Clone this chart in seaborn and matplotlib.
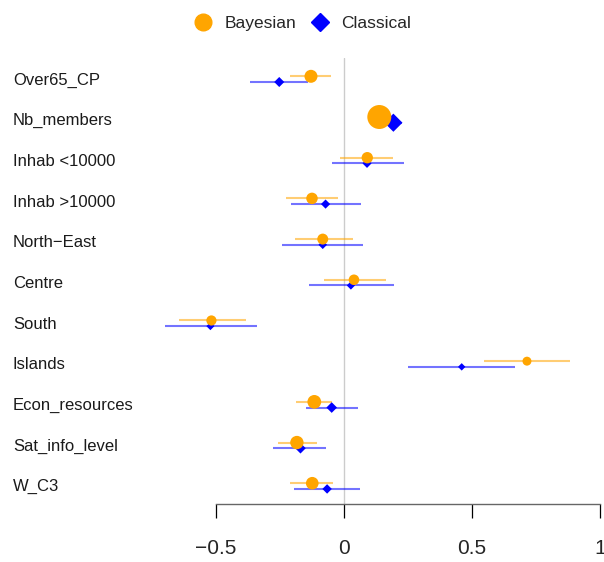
import numpy as np
import pandas as pd
import seaborn as sns
import matplotlib.pyplot as plt
from matplotlib.lines import Line2D
from matplotlib.transforms import blended_transform_factory

variables = ["Over65_CP", "Nb_members", "Inhab <10000", "Inhab >10000",
             "North\u2212East", "Centre", "South", "Islands",
             "Econ_resources", "Sat_info_level", "W_C3"]

# Bayesian estimates with interval
bayes_est = [-0.129, 0.138, 0.091, -0.125, -0.083, 0.039, -0.518, 0.715,
             -0.116, -0.184, -0.124]
bayes_lo = [-0.210, 0.115, -0.016, -0.227, -0.191, -0.078, -0.643, 0.548,
            -0.188, -0.256, -0.211]
bayes_hi = [-0.050, 0.162, 0.193, -0.023, 0.034, 0.164, -0.383, 0.885,
            -0.045, -0.105, -0.042]

# Classical estimates with interval
class_est = [-0.253, 0.193, 0.090, -0.072, -0.083, 0.027, -0.522, 0.460,
             -0.048, -0.170, -0.066]
class_lo = [-0.367, 0.158, -0.047, -0.207, -0.241, -0.138, -0.699, 0.251,
            -0.148, -0.277, -0.195]
class_hi = [-0.139, 0.228, 0.234, 0.066, 0.076, 0.197, -0.341, 0.668,
            0.056, -0.070, 0.062]

xticks = [-0.5, 0, 0.5, 1]


def build_frame():
    rows = []
    for method, est, lo, hi in [("Classical", class_est, class_lo, class_hi),
                                ("Bayesian", bayes_est, bayes_lo, bayes_hi)]:
        for i, v in enumerate(variables):
            rows.append({"variable": v, "row": i, "method": method,
                         "est": est[i], "lo": lo[i], "hi": hi[i]})
    df = pd.DataFrame(rows)
    df["width"] = df["hi"] - df["lo"]
    # marker area grows with precision (1 / interval width)
    df["y"] = df["row"] + np.where(df["method"] == "Bayesian", -0.09, 0.05)
    return df


def main():
    sns.set_theme(style="white")
    plt.rcParams["font.family"] = ["Liberation Sans", "DejaVu Sans"]

    df = build_frame()
    fig = plt.figure(figsize=(6.04, 5.62), dpi=100)
    ax = fig.add_axes([150 / 604, 1 - 504 / 562, 454 / 604, 446 / 562])

    ax.axvline(0, color="#cccccc", lw=1, zorder=0)

    styles = {"Classical": dict(color="blue", marker="D", k=6.0),
              "Bayesian": dict(color="orange", marker="o", k=14.0)}
    for method in ["Classical", "Bayesian"]:
        sub = df[df["method"] == method]
        st = styles[method]
        ax.hlines(sub["y"], sub["lo"], sub["hi"], color=st["color"],
                  alpha=0.55, lw=1.5, zorder=2)
        sns.scatterplot(data=sub, x="est", y="y", ax=ax, color=st["color"],
                        marker=st["marker"], s=st["k"] / sub["width"],
                        linewidth=0, legend=False, zorder=3)

    ax.set_xlim(-0.758, 1.016)
    ax.set_ylim(10.42, -0.54)
    ax.set_xlabel("")
    ax.set_ylabel("")
    ax.set_yticks([])
    ax.set_xticks(xticks)
    ax.set_xticklabels(["\u22120.5", "0", "0.5", "1"])
    for s in ["top", "left", "right"]:
        ax.spines[s].set_visible(False)
    ax.spines["bottom"].set_bounds(-0.5, 1)
    ax.spines["bottom"].set_color("#666666")
    ax.spines["bottom"].set_linewidth(1)
    ax.tick_params(axis="x", bottom=True, length=10, width=0.9,
                   color="black", labelsize=15, pad=15)

    trans = blended_transform_factory(fig.transFigure, ax.transData)
    for i, v in enumerate(variables):
        ax.text(13 / 604, i, v, transform=trans, ha="left", va="center",
                fontsize=12, color="#1a1a1a")

    handles = [Line2D([], [], color="orange", marker="o", ls="", ms=12),
               Line2D([], [], color="blue", marker="D", ms=9, ls="")]
    fig.legend(handles, ["Bayesian", "Classical"], loc="center",
               bbox_to_anchor=(0.5, 1 - 23 / 562), ncol=2, frameon=False,
               fontsize=12.5, handletextpad=0.6, columnspacing=0.8,
               handlelength=1.2)

    fig.savefig("out.png", dpi=100)


if __name__ == "__main__":
    main()
